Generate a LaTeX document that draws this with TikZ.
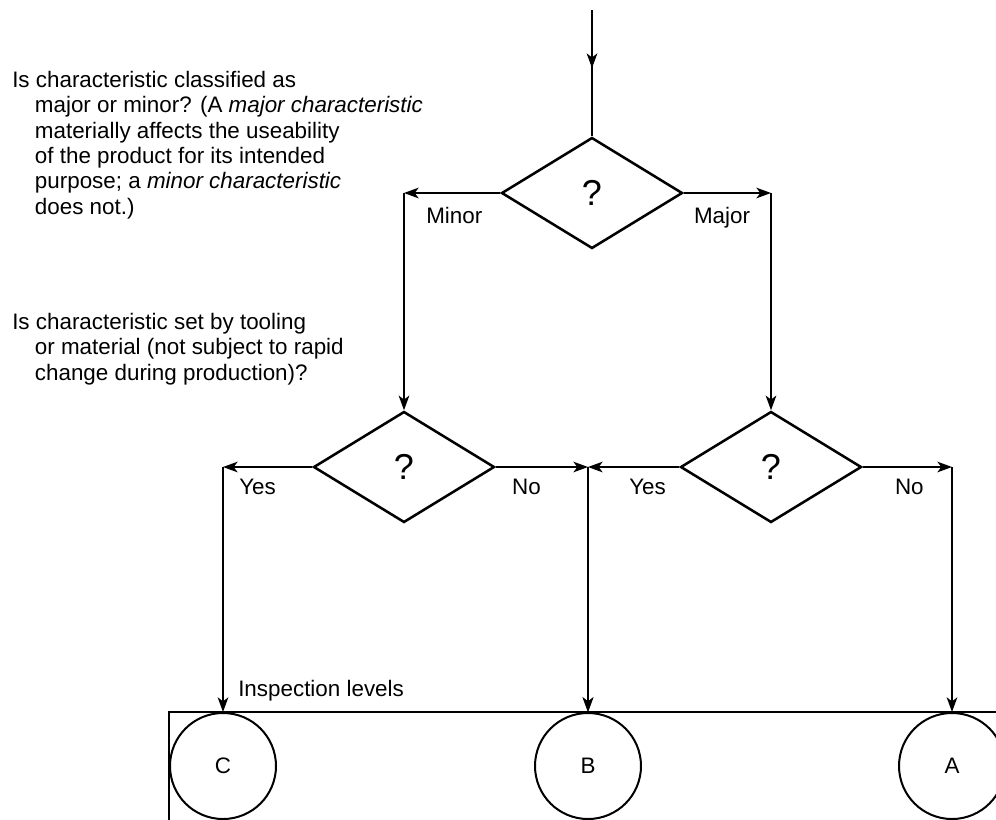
\documentclass[tikz,border=0pt]{standalone}
\usepackage{fontspec}
\setmainfont{Liberation Sans}
\usetikzlibrary{shapes.geometric,arrows.meta,calc,decorations.markings,positioning}

\newcommand{\ind}{\hspace*{17pt}}

\begin{document}
\begin{tikzpicture}[
	x=0.75pt, y=-0.75pt,
	>={Stealth[length=11pt,width=8pt,inset=3pt]},
	every node/.style = {font=\fontsize{16.8}{19}\selectfont},
  query/.style    = {draw, diamond, line width=1.9pt, inner sep=0pt, minimum width=135.75pt, minimum height=83.25pt, font=\fontsize{27}{30}\selectfont},
  level/.style    = {draw, circle, line width=1.5pt, inner sep=0pt, minimum size=79.5pt},
  flow/.style     = {->, line width=1pt},
  midarrow/.style = {line width=1pt, postaction={decorate}, decoration={markings, mark=at position #1 with {\arrow{>}}}},
  frame/.style    = {line width=1.5pt},
  lbl/.style      = {inner sep=0pt},
  note/.style     = {inner sep=0pt, align=left, anchor=north west}]

	\useasboundingbox (0,0) rectangle (996,819);
	\clip (0,0) rectangle (996,819);

	% the three questions
	\node[query] (d1) at (592,193) {?};
	\node[query] (d2) at (404,467) {?};
	\node[query] (d3) at (771,467) {?};

	% inspection levels
	\node[level] (cC) at (223,766) {C};
	\node[level] (cB) at (588,766) {B};
	\node[level] (cA) at (952,766) {A};
	\draw[frame] ($(cC.west)+(0,100)$) |- ($(cC.north)+(900,0)$);

	% incoming line
	\coordinate (in) at (592,10);
	\draw[midarrow=0.46] (in) -- (d1.north);

	% each answer runs out sideways, then down to the next box
	\foreach \q/\side/\r in {d1/west/d2, d1/east/d3, d2/west/cC, d2/east/cB, d3/west/cB, d3/east/cA}{
	  \draw[flow] (\q.\side) -- (\q.\side -| \r.north);
	  \draw[flow] (\q.\side -| \r.north) -- (\r.north);
	}

	% answers
	\node[lbl, anchor=base west] (lmin) at ($(d1.west -| d2.north)+(22,30)$) {Minor};
	\node[lbl, anchor=base west] (lmaj) at ($(d1.east)+(10,30)$) {Major};
	\node[lbl, anchor=base west] (y2) at ($(d2.west -| cC.north)+(16,27)$) {Yes};
	\node[lbl, anchor=base east] (n2) at ($(d2.east -| cB.north)+(-47,27)$) {No};
	\node[lbl, anchor=base west] (y3) at ($(d3.west -| cB.north)+(41,27)$) {Yes};
	\node[lbl, anchor=base west] (n3) at ($(d3.east)+(32,27)$) {No};
	\node[lbl, anchor=base west] (ilev) at ($(cC.north)+(15,-16)$) {Inspection levels};

	% the questions in words
	\node[note] (q1) at (12,71) {Is characteristic classified as\\
	  \ind major or minor? (A \textit{major characteristic}\\
	  \ind materially affects the useability\\
	  \ind of the product for its intended\\
	  \ind purpose; a \textit{minor characteristic}\\
	  \ind does not.)};
	\node[note] (q2) at (12,313) {Is characteristic set by tooling\\
	  \ind or material (not subject to rapid\\
	  \ind change during production)?};
\end{tikzpicture}
\end{document}
